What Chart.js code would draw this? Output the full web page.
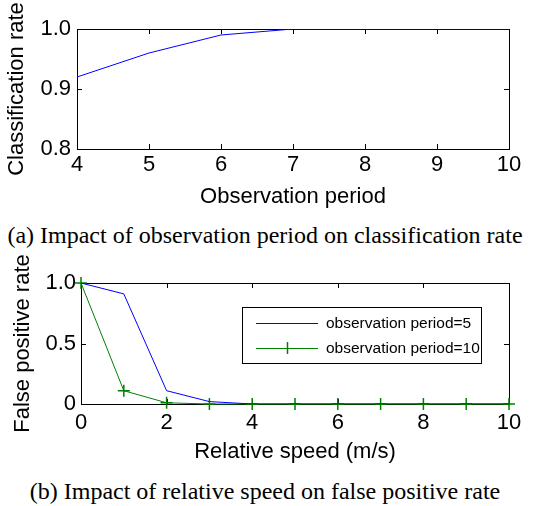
<!DOCTYPE html>
<html>
<head>
<meta charset="utf-8">
<script src="https://cdn.jsdelivr.net/npm/chart.js@4"></script>
<style>
  body { margin: 0; background: #fff; width: 533px; height: 506px; position: relative; overflow: hidden; }
  canvas { position: absolute; left: 0; }
  #c1 { top: 0; }
  #c2 { top: 250px; }
  .cap { position: absolute; left: 0; width: 530px; text-align: center; font-family: "Liberation Serif", "Times New Roman", serif; font-size: 24px; line-height: 28px; color: #000; white-space: nowrap; }
</style>
</head>
<body>
<canvas id="c1" width="533" height="215"></canvas>
<div class="cap" style="top:221px">(a) Impact of observation period on classification rate</div>
<canvas id="c2" width="533" height="225"></canvas>
<div class="cap" style="top:477px">(b) Impact of relative speed on false positive rate</div>
<script>
// data
const periods = [4, 5, 6, 7, 8, 9, 10];
const classRate = [0.92, 0.96, 0.99, 1.0, 1.0, 1.0, 1.0];

const speeds = [0, 1, 2, 3, 4, 5, 6, 7, 8, 9, 10];
const fpPeriod5 = [1.0, 0.91, 0.11, 0.02, 0, 0, 0, 0, 0, 0, 0];
const fpPeriod10 = [1.0, 0.11, 0.01, 0, 0, 0, 0, 0, 0, 0, 0];
const legendLabels = ['observation period=5', 'observation period=10'];

const sans = '"Liberation Sans", Arial, sans-serif';
const BLUE = '#0000ff';
const GREEN = '#008000';

function pts(xs, ys) {
  return xs.map((x, i) => ({ x: x, y: ys[i] }));
}

// box round the plot and little ticks pointing inwards, matlab style
const frame = {
  id: 'frame',
  beforeDatasetsDraw(chart) {
    const { ctx, chartArea: a, scales } = chart;
    const len = 5;
    ctx.save();
    ctx.strokeStyle = '#000';
    ctx.lineWidth = 1;
    ctx.beginPath();
    scales.x.ticks.forEach(t => {
      const px = Math.round(scales.x.getPixelForValue(t.value)) + 0.5;
      ctx.moveTo(px, a.bottom); ctx.lineTo(px, a.bottom - len);
      ctx.moveTo(px, a.top); ctx.lineTo(px, a.top + len);
    });
    scales.y.ticks.forEach(t => {
      const py = Math.round(scales.y.getPixelForValue(t.value)) + 0.5;
      ctx.moveTo(a.left, py); ctx.lineTo(a.left + len, py);
      ctx.moveTo(a.right, py); ctx.lineTo(a.right - len, py);
    });
    ctx.stroke();
    ctx.strokeRect(Math.round(a.left) + 0.5, Math.round(a.top) + 0.5,
      Math.round(a.right - a.left), Math.round(a.bottom - a.top));
    ctx.restore();
  }
};

// legend box inside the plot (top right)
const boxLegend = {
  id: 'boxLegend',
  afterDraw(chart, args, opts) {
    if (!opts.show) return;
    const { ctx, chartArea: a } = chart;
    const bx = a.left + 161, by = a.top + 24, bw = 239, bh = 56;
    ctx.save();
    ctx.fillStyle = '#fff';
    ctx.fillRect(bx, by, bw, bh);
    ctx.strokeStyle = '#000';
    ctx.lineWidth = 1;
    ctx.strokeRect(bx + 0.5, by + 0.5, bw, bh);
    ctx.font = '15.5px ' + sans;
    ctx.textBaseline = 'middle';
    chart.data.datasets.forEach((ds, i) => {
      const y = by + 16 + i * 25;
      const x0 = bx + 14, x1 = bx + 76;
      ctx.strokeStyle = ds.borderColor;
      ctx.beginPath();
      ctx.moveTo(x0, y + 0.5); ctx.lineTo(x1, y + 0.5);
      ctx.stroke();
      if (ds.pointStyle === 'cross') {
        const mx = Math.round((x0 + x1) / 2) + 0.5;
        ctx.lineWidth = ds.pointBorderWidth;
        ctx.beginPath();
        ctx.moveTo(mx, y - 6); ctx.lineTo(mx, y + 6);
        ctx.stroke();
        ctx.lineWidth = 1;
      }
      ctx.fillStyle = '#000';
      ctx.fillText(ds.label, bx + 84, y + 1);
    });
    ctx.restore();
  }
};

function axisX(title, min, max, step, tickPad, titlePad, h) {
  return {
    type: 'linear', min: min, max: max,
    grid: { display: false, drawTicks: false },
    border: { display: false },
    ticks: { stepSize: step, padding: tickPad, color: '#000', font: { family: sans, size: 22 } },
    title: { display: true, text: title, color: '#000', font: { family: sans, size: 22 }, padding: { top: 0, bottom: titlePad } },
    afterFit(s) { s.height = h; }
  };
}

function axisY(title, min, max, step, fmt, tickPad, titlePad, width) {
  return {
    min: min, max: max,
    grid: { display: false, drawTicks: false },
    border: { display: false },
    ticks: { stepSize: step, padding: tickPad, color: '#000', font: { family: sans, size: 22 }, callback: fmt },
    title: { display: true, text: title, color: '#000', font: { family: sans, size: 22 }, padding: { top: titlePad, bottom: 0 } },
    afterFit(s) { s.width = width; }
  };
}

Chart.defaults.animation = false;
Chart.defaults.devicePixelRatio = 1;

new Chart(document.getElementById('c1'), {
  type: 'line',
  data: {
    datasets: [{
      label: 'classification rate',
      data: pts(periods, classRate),
      borderColor: BLUE, borderWidth: 1, pointRadius: 0, tension: 0
    }]
  },
  options: {
    responsive: false,
    layout: { padding: { top: 29, right: 24, left: 0, bottom: 0 } },
    plugins: { legend: { display: false }, tooltip: { enabled: false }, boxLegend: { show: false } },
    scales: {
      x: axisX('Observation period', 4, 10, 1, 3, 5, 66),
      y: axisY('Classification rate', 0.8, 1.0, 0.1, v => v.toFixed(1), 6, 4, 77)
    }
  },
  plugins: [frame, boxLegend]
});

new Chart(document.getElementById('c2'), {
  type: 'line',
  data: {
    datasets: [{
      label: legendLabels[0],
      data: pts(speeds, fpPeriod5),
      borderColor: BLUE, borderWidth: 1, pointRadius: 0, tension: 0
    }, {
      label: legendLabels[1],
      data: pts(speeds, fpPeriod10),
      borderColor: GREEN, borderWidth: 1, tension: 0, clip: false,
      pointStyle: 'cross', pointRadius: 6, pointBorderWidth: 1.5, pointBorderColor: GREEN
    }]
  },
  options: {
    responsive: false,
    layout: { padding: { top: 33, right: 24, left: 0, bottom: 0 } },
    plugins: { legend: { display: false }, tooltip: { enabled: false }, boxLegend: { show: true } },
    scales: {
      x: axisX('Relative speed (m/s)', 0, 10, 2, 6, 10, 71),
      y: axisY('False positive rate', 0, 1, 0.5, v => v === 0 ? '0' : v.toFixed(1), 5, 10, 81)
    }
  },
  plugins: [frame, boxLegend]
});
</script>
</body>
</html>
